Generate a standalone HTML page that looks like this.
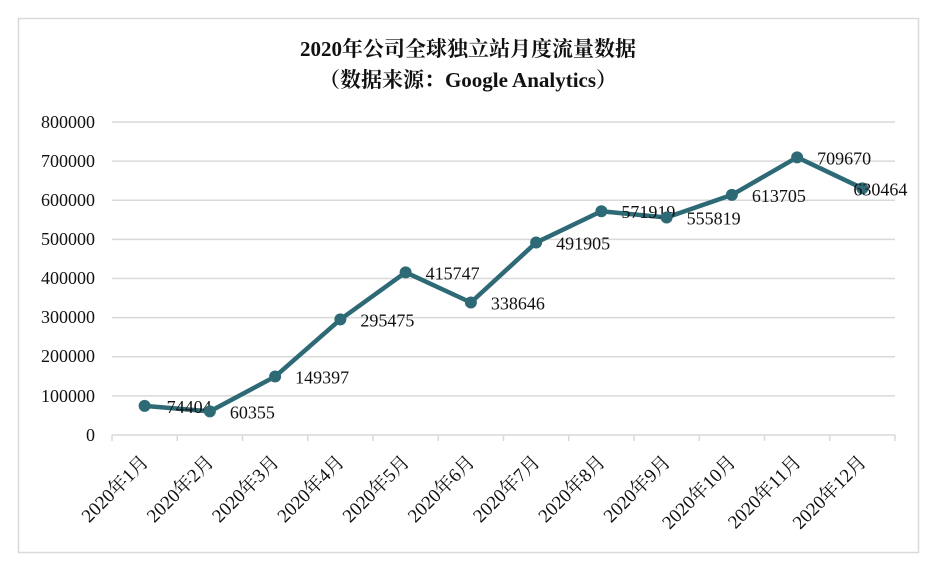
<!DOCTYPE html>
<html><head><meta charset="utf-8"><style>
html,body{margin:0;padding:0;background:#fff;}
svg{display:block;}
text{font-family:"Liberation Serif","Noto Serif CJK SC",serif;fill:#111;}
</style></head><body>
<svg width="936" height="568" viewBox="0 0 936 568" xmlns="http://www.w3.org/2000/svg">
<rect x="18.5" y="18.5" width="900" height="534" fill="#fff" stroke="#d9d9d9" stroke-width="1.5"/>
<text x="468" y="56" text-anchor="middle" font-size="21" font-weight="bold">2020年公司全球独立站月度流量数据</text>
<text x="468" y="87" text-anchor="middle" font-size="21" font-weight="bold">（数据来源：Google Analytics）</text>
<g stroke="#d9d9d9" stroke-width="1.5">
<line x1="112" y1="122" x2="895" y2="122"/>
<line x1="112" y1="161.1" x2="895" y2="161.1"/>
<line x1="112" y1="200.3" x2="895" y2="200.3"/>
<line x1="112" y1="239.4" x2="895" y2="239.4"/>
<line x1="112" y1="278.5" x2="895" y2="278.5"/>
<line x1="112" y1="317.6" x2="895" y2="317.6"/>
<line x1="112" y1="356.8" x2="895" y2="356.8"/>
<line x1="112" y1="395.9" x2="895" y2="395.9"/>
<line x1="112" y1="435" x2="895" y2="435"/>
</g>
<g font-size="18" text-anchor="end">
<text x="95" y="128">800000</text>
<text x="95" y="167">700000</text>
<text x="95" y="206">600000</text>
<text x="95" y="245">500000</text>
<text x="95" y="284">400000</text>
<text x="95" y="323">300000</text>
<text x="95" y="362">200000</text>
<text x="95" y="402">100000</text>
<text x="95" y="441">0</text>
</g>
<script>
(function(){
var data=[74404,60355,149397,295475,415747,338646,491905,571919,555819,613705,709670,630464];
var ns="http://www.w3.org/2000/svg",svg=document.querySelector("svg");
function el(t,a,txt){var e=document.createElementNS(ns,t);for(var k in a)e.setAttribute(k,a[k]);if(txt!=null)e.textContent=txt;svg.appendChild(e);return e;}
var L=112,W=783/12;
for(var i=0;i<=12;i++){el("line",{x1:L+i*W,y1:435,x2:L+i*W,y2:441,stroke:"#d9d9d9","stroke-width":1.5});}
var pts=data.map(function(v,i){return [L+W*(i+0.5),435-v/800000*313];});
el("polyline",{points:pts.map(function(p){return p.join(",")}).join(" "),fill:"none",stroke:"#2e6a76","stroke-width":4.5,"stroke-linejoin":"round"});
pts.forEach(function(p,i){
el("circle",{cx:p[0],cy:p[1],r:6,fill:"#2e6a76"});
var dx=(i==11)?-9:(i==0?22:20);
el("text",{x:p[0]+dx,y:p[1]+7,"font-size":18},String(data[i]));
var cx=p[0]+5,cy=463;
el("text",{x:cx,y:cy,"font-size":19,"text-anchor":"end",transform:"rotate(-45 "+cx+" "+cy+")"},"2020年"+(i+1)+"月");
});
})();
</script>
</svg>
</body></html>
